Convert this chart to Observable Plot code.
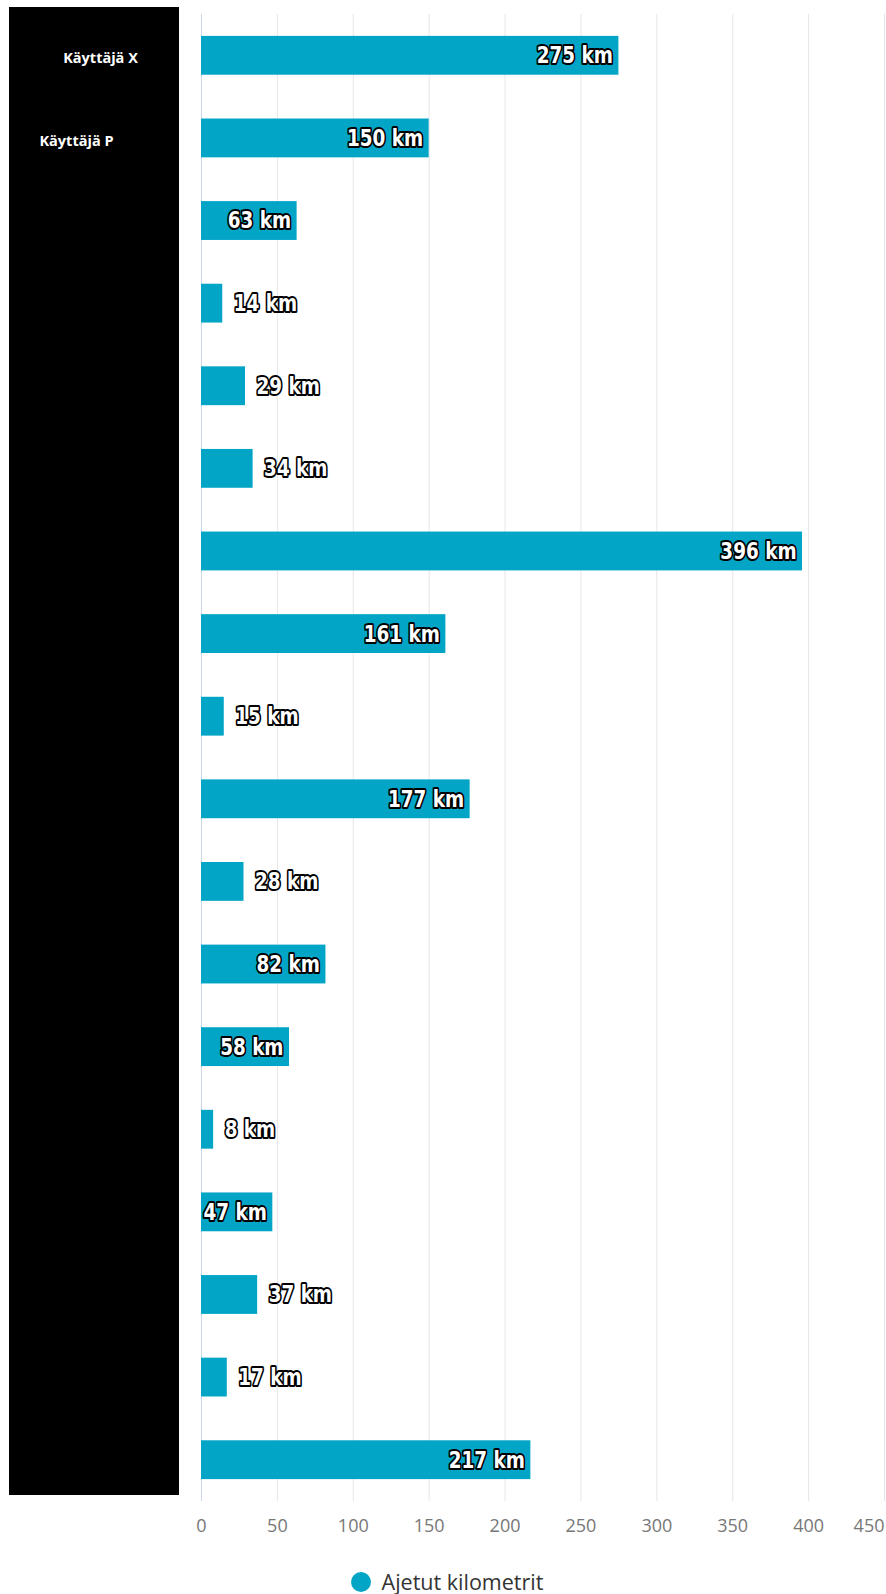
<!DOCTYPE html>
<html><head><meta charset="utf-8">
<script src="https://cdn.jsdelivr.net/npm/d3@7"></script>
<script src="https://cdn.jsdelivr.net/npm/@observablehq/plot@0.6"></script>
<style>
body{margin:0;background:#fff;width:886px;height:1594px;position:relative;overflow:hidden;}
#redact{position:absolute;left:9px;top:7px;width:170px;height:1488px;background:#000;}
#chart{position:absolute;left:0;top:0;}
#legend{position:absolute;top:1567px;left:0;width:886px;display:flex;justify-content:center;align-items:center;font-family:"Open Sans",sans-serif;font-size:21.5px;color:#333;padding-left:8px;box-sizing:border-box;}
#legend .dot{display:inline-block;width:20px;height:20px;border-radius:50%;margin-right:11px;}
</style></head><body>
<div id="redact"></div>
<div id="chart"></div>
<div id="legend"><span class="dot"></span><span class="lab"></span></div>
<script>
// Category labels (only two are readable, the others are covered by a black box)
const users = ["Käyttäjä X", "Käyttäjä P", "", "", "", "", "", "", "", "", "", "", "", "", "", "", "", ""];
// Series values: driven kilometres
const kilometres = [275, 150, 63, 14, 29, 34, 396, 161, 15, 177, 28, 82, 58, 8, 47, 37, 17, 217];
const xTicks = [0, 50, 100, 150, 200, 250, 300, 350, 400, 450];
const seriesName = "Ajetut kilometrit";
const unit = "km";

const barColor = "#02a5c6";
const rows = kilometres.map((v, i) => ({i, v, name: users[i], label: `${v} ${unit}`}));
const labelShift = {"Käyttäjä X": -101, "Käyttäjä P": -125};
const labelFont = "'DejaVu Sans','Open Sans',sans-serif";
const outline = {fill: "white", stroke: "black", strokeWidth: 3.5, paintOrder: "stroke", strokeLinejoin: "round", fontWeight: "bold", fontSize: 20, fontFamily: labelFont};
const tickStyle = {tickSize: 0, tickPadding: 18, fontSize: 18, fill: "#777", label: null, tickFormat: d => d};

const plot = Plot.plot({
  width: 886, height: 1547,
  marginTop: 14, marginBottom: 46, marginLeft: 201, marginRight: 2,
  style: {background: "transparent", fontFamily: "'Open Sans',sans-serif", overflow: "visible"},
  x: {domain: [0, 450], axis: null, label: null},
  y: {type: "band", domain: d3.range(kilometres.length), paddingInner: 0.53, paddingOuter: 0.265, round: false, axis: null},
  marks: [
    Plot.gridX(xTicks, {stroke: "#e6e6e6", strokeOpacity: 1}),
    Plot.ruleX([0], {stroke: "#ccd6eb"}),
    Plot.axisX(xTicks.slice(0, -1), tickStyle),
    Plot.axisX(xTicks.slice(-1), {...tickStyle, textAnchor: "end"}),
    Plot.barX(rows, {y: "i", x: "v", fill: barColor}),
    Plot.text(rows.filter(d => d.v > 40), {y: "i", x: "v", text: "label", textAnchor: "end", dx: -6, ...outline}),
    Plot.text(rows.filter(d => d.v <= 40), {y: "i", x: "v", text: "label", textAnchor: "start", dx: 11, ...outline}),
    ...users.filter(n => n).map(n => Plot.text(rows.filter(d => d.name === n), {
      y: "i", text: "name", frameAnchor: "left", dx: labelShift[n], dy: 3, textAnchor: "middle",
      fill: "white", fontWeight: "bold", fontSize: 14.5, fontFamily: "'Open Sans',sans-serif"
    }))
  ]
});
// narrow, tall look of the value labels
d3.select(plot).selectAll("text")
  .filter(function () { return /\d km$/.test(this.textContent); })
  .each(function () {
    const t = d3.select(this);
    const tr = t.attr("transform") || "";
    t.attr("transform", `${tr} scale(0.92,1.16)`);
  });
document.getElementById("chart").appendChild(plot);
document.querySelector("#legend .dot").style.background = barColor;
document.querySelector("#legend .lab").textContent = seriesName;
</script>
</body></html>
